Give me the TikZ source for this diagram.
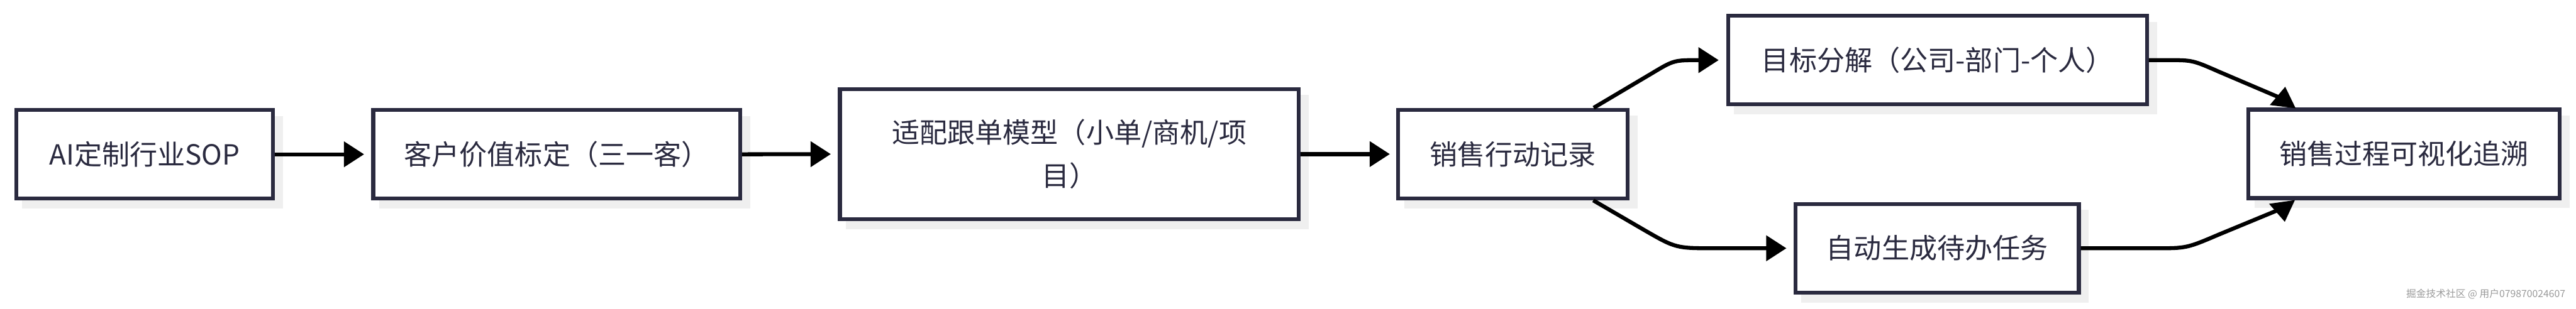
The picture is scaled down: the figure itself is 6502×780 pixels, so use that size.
\documentclass[tikz,border=0pt]{standalone}
\usepackage{fontspec}
\setmainfont{Noto Sans CJK SC}
\usetikzlibrary{arrows.meta,shadows,calc}
\definecolor{bord}{HTML}{2A2A3F}
\definecolor{shad}{HTML}{EFEFEF}
\definecolor{wmc}{HTML}{9A9A9A}
\begin{document}
\begin{tikzpicture}[x=0.1pt,y=-0.1pt,
  box/.style={draw=bord, line width=1pt, fill=white, text=bord,
    font=\fontsize{7pt}{10.9pt}\selectfont, align=center, inner sep=0pt,
    minimum height=22.4pt,
    general shadow={fill=shad, draw=shad, line width=1pt, shadow xshift=2pt, shadow yshift=-2pt}},
  conn/.style={draw=black, line width=1pt, -{Triangle[length=5.1pt,width=6.3pt]}},
]
\useasboundingbox (0,0) rectangle (6502,780);
\node[box, minimum width=64.8pt] (b1) at (365,390) {AI定制行业SOP};
\node[box, minimum width=92.6pt] (b2) at (1405,390) {客户价值标定（三一客）};
\node[box, minimum width=115.8pt, minimum height=32.9pt] (b3) at (2699,389.5) {适配跟单模型（小单/商机/项\\目）};
\node[box, minimum width=57.9pt] (b4) at (3818.5,389.5) {销售行动记录};
\node[box, minimum width=105.7pt] (b5) at (4890.5,152) {目标分解（公司-部门-个人）};
\node[box, minimum width=71.5pt] (b6) at (4889.5,627.5) {自动生成待办任务};
\node[box, minimum width=78.6pt] (b7) at (6068,389) {销售过程可视化追溯};

\coordinate (tl1) at (4170,185);
\coordinate (tl2) at (4225,152);
\coordinate (tl3) at (4290,152);
\coordinate (bl1) at (4151,582);
\coordinate (bl2) at (4230,627.5);
\coordinate (bl3) at (4330,627.5);
\coordinate (tr1) at (5470,152);
\coordinate (tr2) at (5534,152);
\coordinate (tr3) at (5600,181);
\coordinate (tr4) at (5764,251);
\coordinate (br1) at (5440,627.5);
\coordinate (br2) at (5519,627.5);
\coordinate (br3) at (5600,593);
\coordinate (br4) at (5762,526);

\draw[conn, shorten >=1.8pt] (b1.east) -- (b2.west);
\draw[conn, shorten >=1.8pt] (b2.east) -- (b3.west);
\draw[conn, shorten >=1.6pt] (b3.east) -- (b4.west);
\draw[conn, shorten >=1.9pt] ($(b4.north)+(204,0)$) -- (tl1) .. controls (tl2) .. (tl3) -- (b5.west);
\draw[conn, shorten >=1.8pt] ($(b4.south)+(203,0)$) -- (bl1) .. controls (bl2) .. (bl3) -- (b6.west);
\draw[conn] (b5.east) -- (tr1) .. controls (tr2) .. (tr3) -- (tr4) -- ($(b7.north)+(-300,-53)$);
\draw[conn] (b6.east) -- (br1) .. controls (br2) .. (br3) -- (br4) -- ($(b7.south)+(-301,55)$);

\node[anchor=base east, inner sep=0pt, text=wmc, font=\fontsize{2.5pt}{3pt}\selectfont] (wm) at (6477,752) {掘金技术社区 @ 用户079870024607};
\end{tikzpicture}
\end{document}
